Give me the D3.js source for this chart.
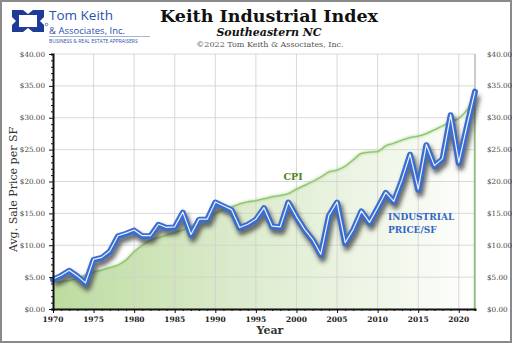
<!DOCTYPE html>
<html>
<head>
<meta charset="utf-8">
<script src="https://cdn.jsdelivr.net/npm/d3@7"></script>
<style>
  body { margin: 0; background: #fff; }
  svg { display: block; }
</style>
</head>
<body>
<div id="chart"></div>
<script>
// Years on the x axis
const years = d3.range(1970, 2023);

// Average industrial sale price per SF
const industrial = [
  4.6, 5.2, 6.0, 5.1, 4.0, 7.7, 8.0, 9.0, 11.4, 11.8,
  12.3, 11.4, 11.4, 13.2, 12.7, 12.8, 15.1, 11.6, 14.0, 14.0,
  16.7, 16.1, 15.5, 12.7, 13.2, 14.0, 15.8, 12.9, 12.8, 16.7,
  14.4, 12.4, 10.8, 8.5, 14.6, 16.7, 10.3, 12.4, 15.3, 13.5,
  15.8, 18.2, 16.8, 20.2, 24.2, 18.7, 25.7, 22.4, 23.5, 30.4,
  22.9, 28.6, 34.1
];

// CPI scaled to the same axis
const cpi = [
  4.1, 4.3, 4.5, 4.8, 5.3, 5.8, 6.1, 6.5, 6.9, 7.7,
  9.0, 10.0, 10.8, 11.2, 11.6, 12.0, 12.4, 12.9, 13.5, 14.2,
  15.0, 15.6, 16.0, 16.5, 16.8, 17.0, 17.3, 17.6, 17.8, 18.1,
  18.8, 19.4, 20.0, 20.7, 21.5, 21.8, 22.4, 23.4, 24.4, 24.6,
  24.7, 25.6, 26.0, 26.5, 26.9, 27.1, 27.5, 28.1, 28.7, 29.4,
  29.9, 31.2, 33.3
];

const yTicks = [0, 5, 10, 15, 20, 25, 30, 35, 40];
const xTicks = [1970, 1975, 1980, 1985, 1990, 1995, 2000, 2005, 2010, 2015, 2020];

const W = 512, H = 343;
const plot = { left: 53, right: 475, top: 54, bottom: 309 };
const SERIF = "'DejaVu Serif', serif";

const svg = d3.select('#chart').append('svg')
  .attr('width', W).attr('height', H);

const defs = svg.append('defs');

// Horizontal fade for the CPI area
const grad = defs.append('linearGradient').attr('id', 'cpiFill')
  .attr('x1', 0).attr('x2', 1).attr('y1', 0).attr('y2', 0);
grad.append('stop').attr('offset', '0%').attr('stop-color', '#bddc9f');
grad.append('stop').attr('offset', '45%').attr('stop-color', '#dcebcd');
grad.append('stop').attr('offset', '80%').attr('stop-color', '#f1f7ea');
grad.append('stop').attr('offset', '100%').attr('stop-color', '#ffffff');

defs.append('filter').attr('id', 'blur')
  .attr('x', '-10%').attr('y', '-10%').attr('width', '120%').attr('height', '130%')
  .append('feGaussianBlur').attr('stdDeviation', 2);
defs.append('filter').attr('id', 'soft')
  .append('feGaussianBlur').attr('stdDeviation', 1.2);

// Outer frame
svg.append('rect')
  .attr('x', 1).attr('y', 1).attr('width', W - 2).attr('height', H - 2)
  .attr('fill', '#fff').attr('stroke', '#8a8a8a').attr('stroke-width', 2);

// Scales
const x = d3.scaleLinear().domain([1970, 2022]).range([plot.left, plot.right]);
const y = d3.scaleLinear().domain([0, 40]).range([plot.bottom, plot.top]);

const rowsInd = years.map((yr, i) => ({ yr, v: industrial[i] }));
const rowsCpi = years.map((yr, i) => ({ yr, v: cpi[i] }));

// CPI area
const area = d3.area()
  .x(d => x(d.yr)).y0(y(0)).y1(d => y(d.v))
  .curve(d3.curveMonotoneX);
const cpiLine = d3.line()
  .x(d => x(d.yr)).y(d => y(d.v))
  .curve(d3.curveMonotoneX);

svg.append('path').datum(rowsCpi)
  .attr('d', area)
  .attr('fill', 'url(#cpiFill)');

// Grid
const grid = svg.append('g').attr('stroke', '#cfcfcf').attr('stroke-opacity', 0.8);
grid.selectAll('line.h').data(yTicks.slice(1)).enter().append('line')
  .attr('x1', plot.left).attr('x2', plot.right)
  .attr('y1', d => y(d)).attr('y2', d => y(d));
grid.selectAll('line.v').data(xTicks.slice(1)).enter().append('line')
  .attr('x1', d => x(d)).attr('x2', d => x(d))
  .attr('y1', plot.top).attr('y2', plot.bottom);

// Right border of plot
svg.append('line')
  .attr('x1', plot.right).attr('x2', plot.right)
  .attr('y1', plot.top).attr('y2', plot.bottom)
  .attr('stroke', '#999').attr('stroke-width', 1);

// CPI line with soft glow
svg.append('path').datum(rowsCpi)
  .attr('d', cpiLine).attr('fill', 'none')
  .attr('stroke', '#a9d48c').attr('stroke-width', 3).attr('stroke-opacity', 0.6)
  .attr('filter', 'url(#soft)');
svg.append('path').datum(rowsCpi)
  .attr('d', cpiLine).attr('fill', 'none')
  .attr('stroke', '#8cc36b').attr('stroke-width', 1.3);
svg.append('line')
  .attr('x1', plot.right - 0.5).attr('x2', plot.right - 0.5)
  .attr('y1', y(cpi[cpi.length - 1])).attr('y2', plot.bottom)
  .attr('stroke', '#8cc36b').attr('stroke-width', 1.5);

// Industrial line: shadow, blue body, white highlight
const indLine = d3.line().x(d => x(d.yr)).y(d => y(d.v));
svg.append('path').datum(rowsInd)
  .attr('d', indLine).attr('fill', 'none')
  .attr('transform', 'translate(2,4)')
  .attr('stroke', '#3a3a3a').attr('stroke-opacity', 0.75)
  .attr('stroke-width', 7).attr('stroke-linejoin', 'round')
  .attr('filter', 'url(#blur)');
svg.append('path').datum(rowsInd)
  .attr('d', indLine).attr('fill', 'none')
  .attr('stroke', '#3a6dd0').attr('stroke-width', 6)
  .attr('stroke-linejoin', 'round').attr('stroke-linecap', 'round');
svg.append('path').datum(rowsInd)
  .attr('d', indLine).attr('fill', 'none')
  .attr('transform', 'translate(0,-0.6)')
  .attr('stroke', '#ffffff').attr('stroke-opacity', 0.9).attr('stroke-width', 1.2)
  .attr('stroke-linejoin', 'round');

// Axes
const yAxisL = svg.append('g')
  .attr('transform', `translate(${plot.left},0)`)
  .call(d3.axisLeft(y).tickValues(d3.range(0, 41, 1)).tickSize(2).tickFormat(''));
yAxisL.selectAll('.tick line')
  .attr('stroke', '#111')
  .attr('x2', d => d % 5 === 0 ? -4 : -2);
yAxisL.select('.domain').attr('stroke', '#111').attr('stroke-width', 2);

svg.append('g').selectAll('text').data(yTicks).enter().append('text')
  .attr('x', plot.left - 8).attr('y', d => y(d) + 2.5)
  .attr('text-anchor', 'end')
  .attr('font-family', SERIF).attr('font-size', 7.2).attr('fill', '#444')
  .text(d => '$' + d.toFixed(2));
svg.append('g').selectAll('text').data(yTicks).enter().append('text')
  .attr('x', plot.right + 12).attr('y', d => y(d) + 2.5)
  .attr('text-anchor', 'start')
  .attr('font-family', SERIF).attr('font-size', 7.2).attr('fill', '#444')
  .text(d => '$' + d.toFixed(2));

const xAxis = svg.append('g')
  .attr('transform', `translate(0,${plot.bottom})`)
  .call(d3.axisBottom(x).tickValues(years).tickSize(2).tickFormat(''));
xAxis.selectAll('.tick line')
  .attr('stroke', '#111')
  .attr('y2', d => d % 5 === 0 ? 4 : 2);
xAxis.select('.domain').attr('stroke', '#111').attr('stroke-width', 2);

svg.append('g').selectAll('text').data(xTicks).enter().append('text')
  .attr('x', d => x(d)).attr('y', plot.bottom + 13)
  .attr('text-anchor', 'middle')
  .attr('font-family', SERIF).attr('font-size', 7.5).attr('font-weight', 'bold').attr('fill', '#222')
  .text(d => d);

// Axis titles
svg.append('text')
  .attr('transform', `translate(17,${(plot.top + plot.bottom) / 2 + 8}) rotate(-90)`)
  .attr('text-anchor', 'middle')
  .attr('font-family', SERIF).attr('font-size', 11).attr('fill', '#333')
  .text('Avg. Sale Price per SF');
svg.append('text')
  .attr('x', 270).attr('y', 334)
  .attr('text-anchor', 'middle')
  .attr('font-family', SERIF).attr('font-size', 11).attr('font-weight', 'bold').attr('fill', '#333')
  .text('Year');

// Series labels
svg.append('text')
  .attr('x', 293).attr('y', 180).attr('text-anchor', 'middle')
  .attr('font-family', SERIF).attr('font-size', 9.5).attr('font-weight', 'bold').attr('fill', '#4c8321')
  .text('CPI');
svg.append('text')
  .attr('x', 388).attr('y', 220)
  .attr('font-family', SERIF).attr('font-size', 9).attr('font-weight', 'bold').attr('fill', '#3566c4')
  .text('INDUSTRIAL');
svg.append('text')
  .attr('x', 388).attr('y', 232.5)
  .attr('font-family', SERIF).attr('font-size', 9).attr('font-weight', 'bold').attr('fill', '#3566c4')
  .text('PRICE/SF');

// Titles
svg.append('text')
  .attr('x', 269).attr('y', 22).attr('text-anchor', 'middle')
  .attr('font-family', SERIF).attr('font-size', 17.5).attr('font-weight', 'bold').attr('fill', '#111')
  .text('Keith Industrial Index');
svg.append('text')
  .attr('x', 269).attr('y', 36).attr('text-anchor', 'middle')
  .attr('font-family', SERIF).attr('font-size', 11).attr('font-weight', 'bold').attr('font-style', 'italic').attr('fill', '#111')
  .text('Southeastern NC');
svg.append('text')
  .attr('x', 270).attr('y', 47).attr('text-anchor', 'middle')
  .attr('font-family', SERIF).attr('font-size', 8).attr('fill', '#555')
  .text('©2022 Tom Keith & Associates, Inc.');

// Logo
const logo = svg.append('g');
logo.append('path')
  .attr('d', 'M12,10 L23,10 L28,14 L33,10 L44,10 L44,17 L40,21 L44,25 L44,32 L33,32 L28,28 L23,32 L12,32 L12,25 L16,21 L12,17 Z')
  .attr('fill', '#1f3b98');
logo.append('rect')
  .attr('x', 19).attr('y', 15).attr('width', 18).attr('height', 12)
  .attr('fill', '#fff');
logo.append('circle')
  .attr('cx', 46.5).attr('cy', 24.5).attr('r', 1.3)
  .attr('fill', 'none').attr('stroke', '#1f3b98').attr('stroke-width', 0.6);
logo.append('text')
  .attr('x', 49).attr('y', 19.5)
  .attr('font-family', "'Open Sans', sans-serif").attr('font-size', 13.5).attr('fill', '#2c4fae')
  .text('Tom Keith');
logo.append('text')
  .attr('x', 49).attr('y', 33.5)
  .attr('font-family', "'Open Sans', sans-serif").attr('font-size', 9.5).attr('fill', '#2c4fae')
  .text('& Associates, Inc.');
logo.append('line')
  .attr('x1', 49).attr('x2', 150).attr('y1', 36.5).attr('y2', 36.5)
  .attr('stroke', '#7f8fc4').attr('stroke-width', 0.7);
logo.append('text')
  .attr('x', 49).attr('y', 42.5)
  .attr('font-family', "'Open Sans', sans-serif").attr('font-size', 5).attr('fill', '#2c4fae')
  .text('BUSINESS & REAL ESTATE APPRAISERS');
</script>
</body>
</html>
